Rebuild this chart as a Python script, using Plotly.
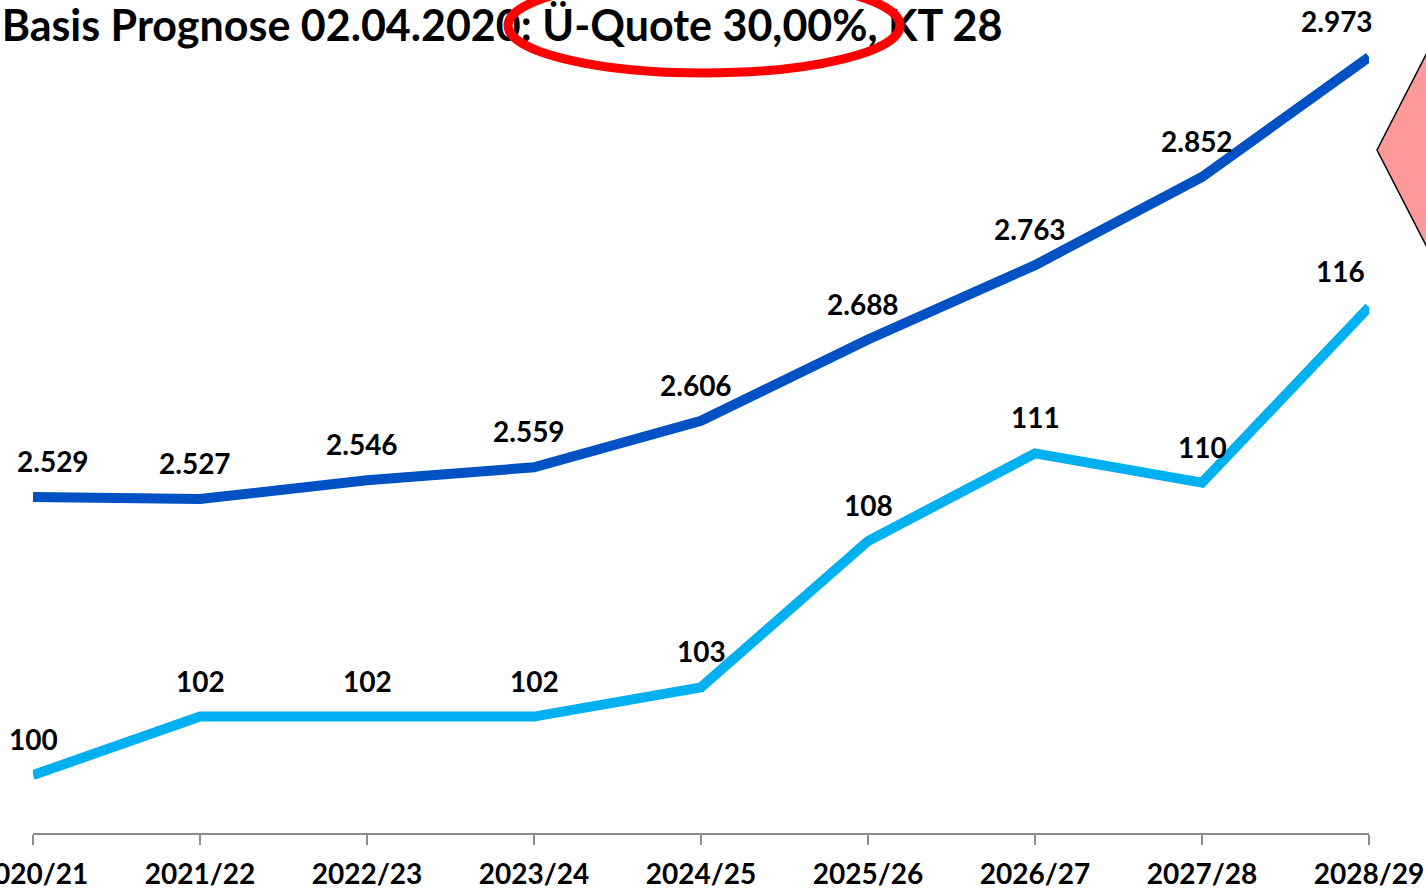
import plotly.graph_objects as go

categories = ["2020/21", "2021/22", "2022/23", "2023/24", "2024/25",
              "2025/26", "2026/27", "2027/28", "2028/29"]
gesamt = [2529, 2527, 2546, 2559, 2606, 2688, 2763, 2852, 2973]
klassen = [100, 102, 102, 102, 103, 108, 111, 110, 116]
gesamt_labels = ["2.529", "2.527", "2.546", "2.559", "2.606", "2.688", "2.763", "2.852", "2.973"]
klassen_labels = [str(v) for v in klassen]
title_text = "Basis Prognose 02.04.2020: Ü-Quote 30,00%, KT 28"

W, H = 1426, 889
L, R, T, B = 33, 57, 0, 56
PW, PH = W - L - R, H - T - B


def px(x):
    return (x - L) / PW


def py(y):
    return (H - B - y) / PH


DARK = "#0052C4"
LIGHT = "#00B0F0"
FONT = "Lato"

fig = go.Figure()
xs = list(range(len(categories)))
n = len(categories)
fig.add_trace(go.Scatter(x=xs, y=gesamt, mode="lines", yaxis="y",
                         line=dict(color=DARK, width=10), hoverinfo="skip"))
fig.add_trace(go.Scatter(x=xs, y=klassen, mode="lines", yaxis="y2",
                         line=dict(color=LIGHT, width=10), hoverinfo="skip"))

# title as text trace so the ellipse shape lies on top of it
fig.add_trace(go.Scatter(x=[px(502)], y=[py(30)], xaxis="x2", yaxis="y3", mode="text",
                         text=[title_text], textposition="middle center", cliponaxis=False,
                         textfont=dict(family=FONT, size=43, color="black", weight="bold"),
                         hoverinfo="skip"))

for i in range(n):
    xs_d = -5
    xs_l = 0
    if i == 0:
        xs_d = 20
    if i == n - 1:
        xs_d = -32
        xs_l = -29
    fig.add_annotation(x=i, y=gesamt[i], xref="x", yref="y", text=gesamt_labels[i],
                       showarrow=False, yshift=36, xshift=xs_d,
                       font=dict(family=FONT, size=28, color="black", weight="bold"))
    fig.add_annotation(x=i, y=klassen[i], xref="x", yref="y2", text=klassen_labels[i],
                       showarrow=False, yshift=36, xshift=xs_l,
                       font=dict(family=FONT, size=28, color="black", weight="bold"))

# red ellipse
fig.add_shape(type="circle", xref="paper", yref="paper", layer="above",
              x0=px(508), x1=px(900), y0=py(73), y1=py(-22),
              line=dict(color="#FF0000", width=9), fillcolor="rgba(0,0,0,0)")

# pink arrow
fig.add_shape(type="path", xref="paper", yref="paper", layer="above",
              path=f"M {px(1432)} {py(43)} L {px(1377)} {py(150)} L {px(1432)} {py(257)} Z",
              line=dict(color="black", width=1.5), fillcolor="#FF9999")

fig.update_layout(
    width=W, height=H,
    margin=dict(l=L, r=R, t=T, b=B, pad=0, autoexpand=False),
    paper_bgcolor="white", plot_bgcolor="white",
    showlegend=False,
    xaxis=dict(range=[0, n - 1], tickmode="array", tickvals=xs, ticktext=categories,
               showgrid=False, zeroline=False, showline=True, linecolor="#8C8C8C",
               linewidth=2, ticks="outside", ticklen=10, tickwidth=2, tickcolor="#8C8C8C",
               ticklabeloverflow="allow", ticklabelstandoff=5, automargin=False,
               tickfont=dict(family=FONT, size=28, color="black", weight="bold")),
    xaxis2=dict(range=[0, 1], visible=False, overlaying="x", automargin=False),
    yaxis=dict(range=[2190, 3030.6], visible=False, automargin=False),
    yaxis2=dict(range=[98.02, 126.5], visible=False, overlaying="y", automargin=False),
    yaxis3=dict(range=[0, 1], visible=False, overlaying="y", automargin=False),
)

fig.write_html("out.html")
